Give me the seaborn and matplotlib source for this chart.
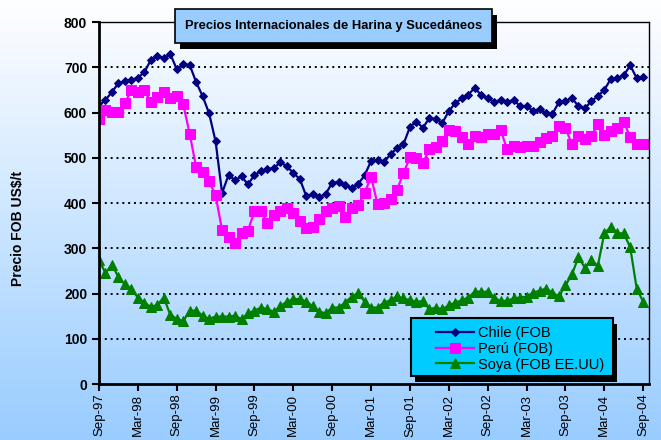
import matplotlib
matplotlib.use("Agg")
import matplotlib.pyplot as plt
from matplotlib.patches import Rectangle
import numpy as np
import pandas as pd
import seaborn as sns

# monthly FOB prices, Sep-97 .. Sep-04 (85 months)
chile = [615, 628, 645, 665, 669, 672, 677, 689, 716, 725, 720, 729, 696, 707, 705, 667,
         636, 598, 536, 422, 462, 450, 459, 441, 462, 470, 475, 477, 490, 481, 466, 453,
         415, 420, 413, 420, 445, 446, 439, 433, 442, 461, 493, 495, 490, 508, 521, 530,
         568, 580, 566, 588, 585, 577, 603, 621, 631, 639, 655, 638, 632, 623, 628, 623,
         628, 614, 614, 604, 607, 598, 597, 623, 625, 632, 614, 609, 625, 636, 650, 674,
         676, 682, 704, 676, 679]
peru = [585, 605, 601, 601, 621, 649, 645, 649, 623, 634, 645, 632, 636, 618, 553, 479,
        468, 448, 417, 340, 325, 312, 334, 339, 382, 382, 356, 374, 382, 388, 378, 361,
        344, 346, 364, 382, 388, 393, 369, 388, 395, 422, 458, 397, 400, 409, 429, 466,
        501, 499, 488, 519, 523, 536, 561, 559, 545, 530, 548, 545, 552, 552, 561, 519,
        526, 523, 526, 526, 535, 543, 548, 570, 566, 530, 548, 541, 548, 574, 550, 559,
        566, 580, 545, 530, 530]
soya = [274, 245, 264, 236, 220, 210, 191, 180, 170, 175, 191, 153, 144, 139, 162, 162,
        151, 144, 149, 149, 149, 151, 143, 156, 162, 169, 165, 160, 172, 182, 187, 188,
        182, 172, 160, 156, 169, 169, 180, 193, 201, 182, 169, 169, 180, 185, 194, 189,
        185, 182, 183, 165, 169, 165, 174, 180, 185, 191, 204, 204, 204, 191, 183, 184,
        189, 191, 193, 202, 206, 211, 201, 194, 218, 242, 280, 257, 274, 261, 333, 347,
        333, 333, 302, 211, 182]

series = ["Chile (FOB", "Perú (FOB)", "Soya (FOB EE.UU)"]
tick_labels = ["Sep-97", "Mar-98", "Sep-98", "Mar-99", "Sep-99", "Mar-00", "Sep-00",
               "Mar-01", "Sep-01", "Mar-02", "Sep-02", "Mar-03", "Sep-03", "Mar-04", "Sep-04"]

df = pd.DataFrame({"mes": np.arange(len(chile)), series[0]: chile,
                   series[1]: peru, series[2]: soya})
df = df.melt(id_vars="mes", var_name="serie", value_name="precio")

styles = {
    series[0]: dict(color="#000080", marker="D", markersize=4),
    series[1]: dict(color="#ff00ff", marker="s", markersize=7),
    series[2]: dict(color="#008000", marker="^", markersize=6.5),
}

plt.rcParams["font.family"] = ["Liberation Sans", "DejaVu Sans"]

fig = plt.figure(figsize=(6.61, 4.40), dpi=100)

# background gradient white -> light blue
bg = fig.add_axes([0, 0, 1, 1], zorder=-10)
grad = np.linspace(0, 1, 256)[:, None, None]
top = np.array([1.0, 1.0, 1.0])
bot = np.array([0.60, 0.80, 1.0])
img = top + (bot - top) * grad
bg.imshow(np.repeat(img, 2, axis=1), aspect="auto", extent=[0, 1, 0, 1])
bg.axis("off")

ax = fig.add_axes([99 / 661, 1 - 384 / 440, 550 / 661, 362 / 440])
ax.patch.set_alpha(0)

for name in series:
    st = styles[name]
    sns.lineplot(data=df[df["serie"] == name], x="mes", y="precio", ax=ax,
                 color=st["color"], marker=st["marker"], markersize=st["markersize"],
                 markeredgecolor=st["color"], linewidth=1.6, label=name)

ax.set_xlim(0, 84.9)
ax.set_ylim(0, 800)
ax.set_xticks(np.arange(0, 85, 6))
ax.set_xticklabels(tick_labels, rotation=90, fontsize=9.5)
ax.set_yticks(np.arange(0, 801, 100))
ax.set_yticklabels([str(v) for v in range(0, 801, 100)], fontsize=10, fontweight="bold")
ax.set_xlabel("")
ax.set_ylabel("")
for y in range(100, 800, 100):
    ax.axhline(y, color="black", linestyle=(0, (1, 2)), linewidth=1.4, zorder=0.5)
ax.tick_params(axis="both", direction="out", length=5, width=1.5, color="black")
ax.tick_params(axis="x", pad=2)
ax.spines["left"].set_linewidth(2)
ax.spines["bottom"].set_linewidth(2)
ax.spines["top"].set_linewidth(1)
ax.spines["right"].set_linewidth(1)

fig.text(18 / 661, 1 - 228 / 440, "Precio FOB US$/t", rotation=90, ha="center",
         va="center", fontsize=10, fontweight="bold")

# title box with shadow
fig.add_artist(Rectangle((180 / 661, 1 - 49 / 440), 317 / 661, 34 / 440,
                         transform=fig.transFigure, facecolor="black", zorder=5))
fig.add_artist(Rectangle((175 / 661, 1 - 43 / 440), 317 / 661, 34 / 440,
                         transform=fig.transFigure, facecolor="#99ccff",
                         edgecolor="black", linewidth=1.2, zorder=6))
fig.text(334 / 661, 1 - 26 / 440, "Precios Internacionales de Harina y Sucedáneos",
         ha="center", va="center", fontsize=9.3, fontweight="bold", zorder=7)

# legend box with shadow
fig.add_artist(Rectangle((415 / 661, 1 - 382 / 440), 202 / 661, 58 / 440,
                         transform=fig.transFigure, facecolor="black", zorder=5))
fig.add_artist(Rectangle((411 / 661, 1 - 376 / 440), 202 / 661, 58 / 440,
                         transform=fig.transFigure, facecolor="#00ccff",
                         edgecolor="black", linewidth=1.5, zorder=6))
leg = ax.legend(loc="upper left", bbox_to_anchor=(436 / 661, 1 - 326 / 440),
                bbox_transform=fig.transFigure, frameon=False, fontsize=10.5,
                handlelength=2.6, handletextpad=0.3, labelspacing=0.12,
                borderpad=0, borderaxespad=0)
leg.set_zorder(8)
leg.remove()
fig.add_artist(leg)

fig.savefig("out.png", dpi=100)
